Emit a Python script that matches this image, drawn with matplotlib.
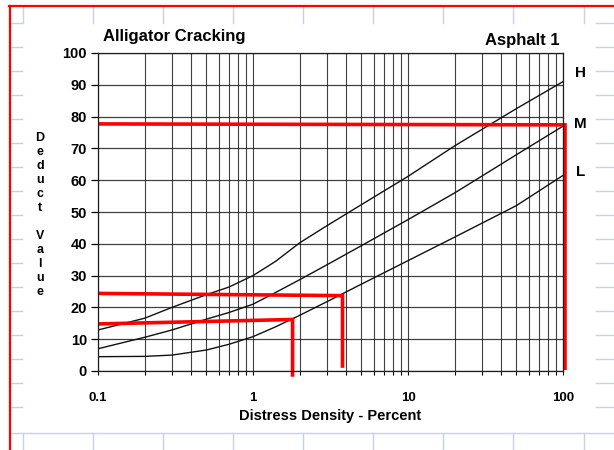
import numpy as np
import matplotlib
matplotlib.use("Agg")
import matplotlib.pyplot as plt
from matplotlib.lines import Line2D
from matplotlib.ticker import FixedLocator, NullFormatter

plt.rcParams["font.family"] = ["Liberation Sans", "DejaVu Sans"]
plt.rcParams["font.weight"] = "bold"

# curve values (distress density %, deduct value)
density = [0.1, 0.2, 0.3, 0.5, 0.7, 1, 1.4, 2, 3, 5, 10, 20, 50, 100]
high = [12.9, 16.6, 20.0, 24.0, 26.4, 30.0, 34.5, 40.3, 45.7, 52.3, 61.2,
        70.8, 82.5, 91.0]
medium = [7.0, 10.6, 12.9, 16.3, 18.4, 21.0, 24.7, 28.7, 33.4, 39.4, 47.6,
          56.0, 68.0, 77.0]
low = [4.5, 4.6, 5.0, 6.6, 8.4, 10.8, 13.9, 17.5, 21.8, 27.3, 34.7, 42.1,
       52.0, 61.5]

severity = ["H", "M", "L"]
severity_y = [93.7, 77.6, 62.6]

# red reading lines drawn on top: (x path, y path)
red_x = [[0.1, 103, 103], [0.1, 3.78, 3.78], [0.1, 1.8, 1.8]]
red_y = [[77.7, 77.4, 0.3], [24.4, 23.7, 1.0], [14.8, 16.2, -1.8]]

xticks = [0.1, 1, 10, 100]
xticklabels = ["0.1", "1", "10", "100"]
yticks = list(range(0, 101, 10))

W, H = 614, 450
fig = plt.figure(figsize=(W / 100, H / 100), dpi=100)
fig.patch.set_facecolor("white")


def px(x0, y0, x1, y1, **kw):
    fig.add_artist(Line2D([x0 / W, x1 / W], [1 - y0 / H, 1 - y1 / H],
                          transform=fig.transFigure, **kw))


# spreadsheet cell lines around the pasted picture
cell = dict(color="#c9d1e3", lw=1.0)
cols = [23, 93, 163, 233, 303, 373, 443, 513, 584]
for cx in cols:
    px(cx, 7, cx, 23, **cell)
    px(cx, 433, cx, 450, **cell)
for ry in np.arange(23, 420, 24):
    px(10, ry, 22, ry, **cell)
    px(596, ry, 614, ry, **cell)
px(10, 433, 614, 433, **cell)

# red outline of the selected cell
px(9.5, 6, 9.5, 450, color="#ff0000", lw=1.6)
px(9, 6, 614, 6, color="#ff0000", lw=1.6)

ax = fig.add_axes([98 / W, 1 - 371 / H, (563 - 98) / W, (371 - 53) / H])
ax.set_xscale("log")
ax.set_xlim(0.1, 100)
ax.set_ylim(0, 100)

ax.xaxis.set_major_locator(FixedLocator(xticks))
ax.xaxis.set_minor_locator(FixedLocator(
    [m * 10.0 ** e for e in (-1, 0, 1) for m in range(2, 10)]))
ax.xaxis.set_minor_formatter(NullFormatter())
ax.set_xticklabels(xticklabels)
ax.set_yticks(yticks)

ax.grid(True, which="both", axis="x", color="#1e1e1e", lw=0.8, alpha=0.85)
ax.grid(True, which="major", axis="y", color="#1e1e1e", lw=0.9, alpha=0.85)
for s in ax.spines.values():
    s.set_color("#1e1e1e")
    s.set_linewidth(0.9)

ax.tick_params(axis="y", which="major", direction="out", length=5,
               width=0.9, pad=3, labelsize=10.5)
ax.tick_params(axis="x", which="both", direction="out", length=3,
               width=0.8, labelsize=9.5, pad=12)

for vals in (high, medium, low):
    ax.plot(density, vals, color="#111111", lw=1.0)

for xs, ys in zip(red_x, red_y):
    ax.plot(xs, ys, color="#ff0000", lw=2.6, clip_on=False,
            solid_capstyle="butt", solid_joinstyle="miter")

for lab, yv in zip(severity, severity_y):
    ax.text(129, yv, lab, ha="center", va="center", fontsize=11,
            fontweight="bold", clip_on=False)

ax.set_xlabel("Distress Density - Percent", fontsize=10.5,
              fontweight="bold", labelpad=4)

fig.text(103 / W, 1 - 36 / H, "Alligator Cracking", ha="left", va="center",
         fontsize=12, fontweight="bold")
fig.text(560 / W, 1 - 40 / H, "Asphalt 1", ha="right", va="center",
         fontsize=12, fontweight="bold")
fig.text(40 / W, 1 - 215 / H, "\n".join("Deduct Value"), ha="center",
         va="center", fontsize=9, fontweight="bold", linespacing=1.22)

fig.savefig("out.png", dpi=100, facecolor="white")
